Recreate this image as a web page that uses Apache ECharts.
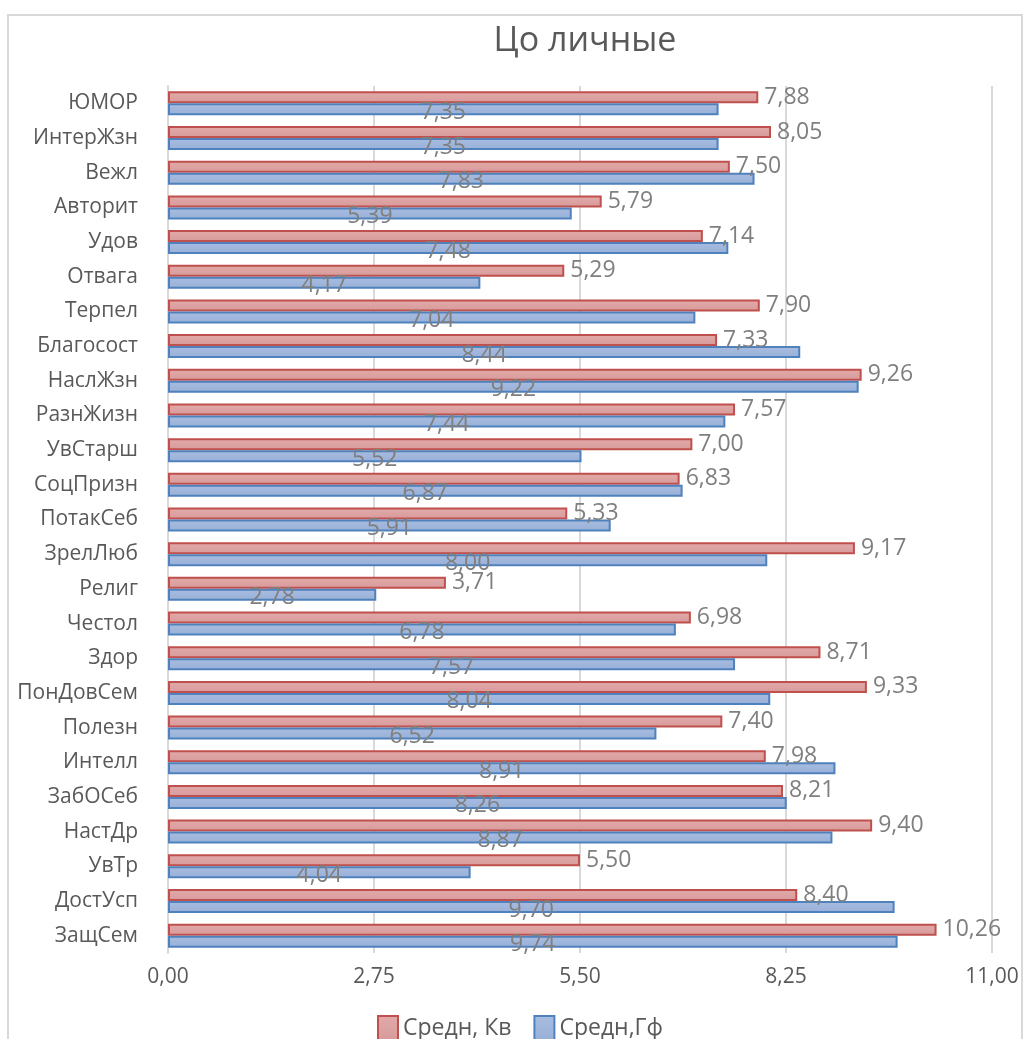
<!DOCTYPE html>
<html><head><meta charset="utf-8">
<script src="https://cdn.jsdelivr.net/npm/echarts@6/dist/echarts.min.js"></script>
<style>html,body{margin:0;padding:0;background:#fff}#c{width:1026px;height:1039px}</style>
</head><body><div id="c"></div>
<script>
const categories = ['ЮМОР','ИнтерЖзн','Вежл','Авторит','Удов','Отвага','Терпел','Благосост','НаслЖзн','РазнЖизн','УвСтарш','СоцПризн','ПотакСеб','ЗрелЛюб','Религ','Честол','Здор','ПонДовСем','Полезн','Интелл','ЗабОСеб','НастДр','УвТр','ДостУсп','ЗащСем'];
const kvValues = [7.88,8.05,7.50,5.79,7.14,5.29,7.90,7.33,9.26,7.57,7.00,6.83,5.33,9.17,3.71,6.98,8.71,9.33,7.40,7.98,8.21,9.40,5.50,8.40,10.26];
const gfValues = [7.35,7.35,7.83,5.39,7.48,4.17,7.04,8.44,9.22,7.44,5.52,6.87,5.91,8.00,2.78,6.78,7.57,8.04,6.52,8.91,8.26,8.87,4.04,9.70,9.74];
const seriesNames = ['Средн, Кв','Средн,Гф'];
const title = 'Цо личные';

const FONT = '"Open Sans", "DejaVu Sans", sans-serif';
const fmt = v => Number(v).toFixed(2).replace('.', ',');
const chart = echarts.init(document.getElementById('c'));
chart.setOption({
  animation: false,
  textStyle: {fontFamily: FONT},
  title: {text: title, left: 580, top: 19, textAlign: 'center',
    textStyle: {fontSize: 34, fontWeight: 'normal', color: '#595959', fontFamily: FONT}},
  graphic: [{type: 'rect', shape: {x: 8, y: 15, width: 1014, height: 1040}, style: {fill: 'none', stroke: '#d9d9d9', lineWidth: 2}, silent: true}],
  legend: {bottom: -7, left: 372, icon: 'rect', itemWidth: 20, itemHeight: 24, itemGap: 22,
    textStyle: {fontSize: 23, color: '#595959', fontFamily: FONT}},
  grid: {left: 168, right: 34, top: 86, bottom: 86},
  xAxis: {type: 'value', min: 0, max: 11, interval: 2.75,
    axisLabel: {formatter: fmt, fontSize: 21, color: '#595959', margin: 14, fontFamily: FONT},
    splitLine: {lineStyle: {color: '#d9d9d9', width: 2}},
    axisLine: {show: false}, axisTick: {show: false}},
  yAxis: {type: 'category', data: categories, inverse: true,
    axisLabel: {fontSize: 21, color: '#595959', margin: 30, fontFamily: FONT},
    axisLine: {lineStyle: {color: '#d9d9d9', width: 2}}, axisTick: {show: false}},
  series: [
    {name: seriesNames[0], type: 'bar', data: kvValues, barWidth: 12, barGap: '0%',
      itemStyle: {color: new echarts.graphic.LinearGradient(0,0,0,1,[{offset:0,color:'#e3aaaa'},{offset:1,color:'#d79a9a'}]), borderColor: '#c0504d', borderWidth: 2},
      label: {show: true, position: 'right', distance: 6, formatter: p => fmt(p.value), fontSize: 23, color: '#7f7f7f', fontFamily: FONT}},
    {name: seriesNames[1], type: 'bar', data: gfValues, barWidth: 12,
      itemStyle: {color: new echarts.graphic.LinearGradient(0,0,0,1,[{offset:0,color:'#a9bde0'},{offset:1,color:'#97afd8'}]), borderColor: '#4f81bd', borderWidth: 2},
      label: {show: true, position: 'inside', offset: [0, 3], formatter: p => fmt(p.value), fontSize: 23, color: '#7f7f7f', fontFamily: FONT}}
  ]
});
</script></body></html>
